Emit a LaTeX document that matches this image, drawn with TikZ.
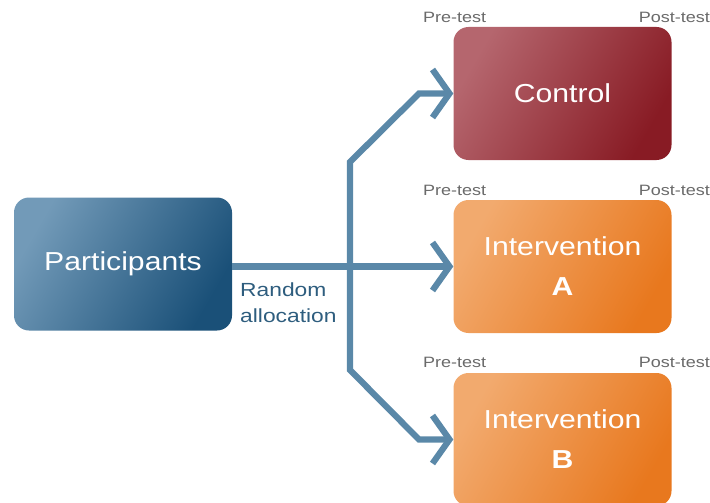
\documentclass[tikz,border=0pt]{standalone}
\usepackage{fontspec}
\usepackage{graphicx}
\setmainfont{Liberation Sans}
\usetikzlibrary{arrows.meta}
\definecolor{lineblue}{HTML}{5A88A8}
\definecolor{partA}{HTML}{729AB8}
\definecolor{partB}{HTML}{1A5078}
\definecolor{ctrlA}{HTML}{B5666E}
\definecolor{ctrlB}{HTML}{881B24}
\definecolor{intA}{HTML}{F2AA6E}
\definecolor{intB}{HTML}{E8781E}
\definecolor{labelgray}{HTML}{6A6A6A}
\definecolor{randtext}{HTML}{2E5D7E}
\newcommand{\wx}[1]{\scalebox{1.16}[1]{#1}}
\tikzset{
  boxbase/.style={minimum width=218pt, minimum height=133pt, rounded corners=15pt,
    inner sep=0pt, text=white, align=center, font=\fontsize{26}{40}\selectfont},
  partbox/.style={boxbase, top color=partA, bottom color=partB, shading angle=60},
  ctrlbox/.style={boxbase, top color=ctrlA, bottom color=ctrlB, shading angle=60},
  intbox/.style={boxbase, top color=intA, bottom color=intB, shading angle=60},
  testlabel/.style={text=labelgray, font=\fontsize{15}{18}\selectfont, inner sep=0pt},
  conn/.style={draw=lineblue, line width=6.2pt, line join=miter,
    -{Straight Barb[length=17pt, width=48pt]}}
}
\begin{document}
\begin{tikzpicture}[x=1pt, y=-1pt]
\useasboundingbox (0,0) rectangle (710,503);
% boxes
\node[partbox] (part) at (123,264) {\wx{Participants}};
\node[ctrlbox] (ctrl) at (562.5,93.5) {\wx{Control}};
\node[intbox] (inta) at (562.5,266.5) {\wx{Intervention}\\\wx{\textbf{A}}};
\node[intbox] (intb) at (562.5,439.5) {\wx{Intervention}\\\wx{\textbf{B}}};
% test labels
\node[testlabel, anchor=west] (pre1) at (423,17) {\scalebox{1.2}[1]{Pre-test}};
\node[testlabel, anchor=east] (post1) at (710,17) {\scalebox{1.2}[1]{Post-test}};
\node[testlabel, anchor=west] (pre2) at (423,190) {\scalebox{1.2}[1]{Pre-test}};
\node[testlabel, anchor=east] (post2) at (710,190) {\scalebox{1.2}[1]{Post-test}};
\node[testlabel, anchor=west] (pre3) at (423,362) {\scalebox{1.2}[1]{Pre-test}};
\node[testlabel, anchor=east] (post3) at (710,362) {\scalebox{1.2}[1]{Post-test}};
% random allocation label
\node[anchor=west, align=left, text=randtext, inner sep=0pt,
  font=\fontsize{19}{26}\selectfont] (rand) at (240,303) {\scalebox{1.2}[1]{Random}\\\scalebox{1.2}[1]{allocation}};
% connectors
\coordinate (split) at (350,266.5);
\coordinate (upbend) at (350,162);
\coordinate (updiag) at (419,93.5);
\coordinate (downbend) at (350,370);
\coordinate (downdiag) at (419,439.5);
\draw[conn] (part.east |- split) -- (inta.west);
\draw[conn] (split) -- (upbend) -- (updiag) -- (ctrl.west);
\draw[conn] (split) -- (downbend) -- (downdiag) -- (intb.west);
\end{tikzpicture}
\end{document}
